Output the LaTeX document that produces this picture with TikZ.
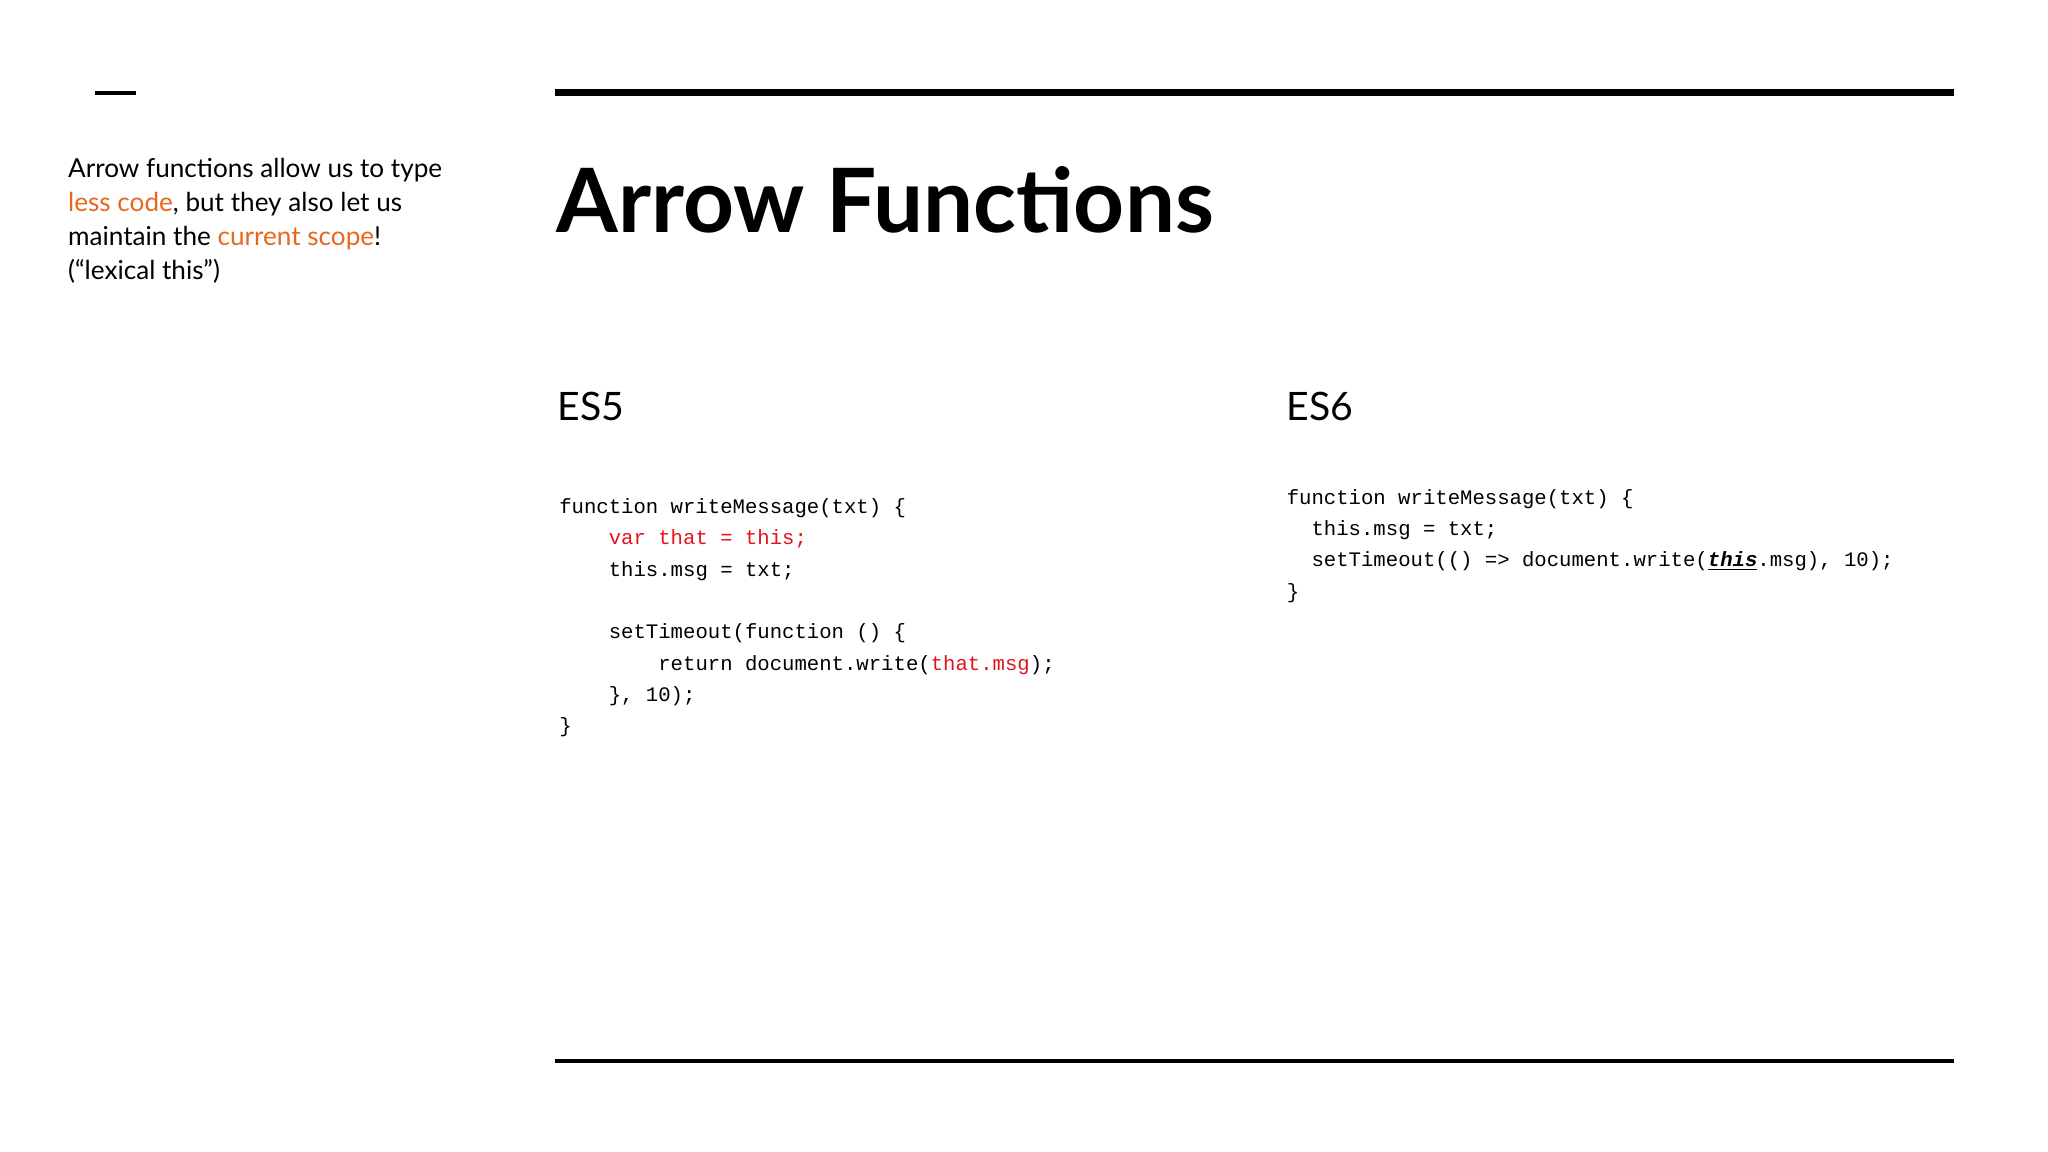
\documentclass[tikz,border=0pt]{standalone}
\usepackage{fontspec}
\setmainfont{Lato}
\setmonofont{Liberation Mono}
\definecolor{orng}{HTML}{E8671E}
\definecolor{cred}{HTML}{E0161B}
\begin{document}
\begin{tikzpicture}[x=1pt,y=-1pt,
  body/.style={anchor=base west,inner sep=0pt,font=\fontsize{20}{26}\selectfont},
  code/.style={anchor=base west,inner sep=0pt,font=\fontsize{15.8}{24}\ttfamily}]
\useasboundingbox (0,0) rectangle (1568,882);
\draw[line width=3pt] (73,71) -- (104,71);
\draw[line width=5pt] (425,71) -- (1496,71);
\draw[line width=3pt] (425,812) -- (1496,812);
\node[body] (l1) at (52,136) {Arrow functions allow us to type};
\node[body] (l2) at (52,162) {\textcolor{orng}{less code}, but they also let us};
\node[body] (l3) at (52,188) {maintain the \textcolor{orng}{current scope}!};
\node[body] (l4) at (52,214) {(“lexical this”)};
\node[anchor=base west,inner sep=0pt,font=\fontsize{68}{70}\selectfont\bfseries] (title) at (426,178) {Arrow Functions};
\node[anchor=base west,inner sep=0pt,font=\fontsize{30}{34}\selectfont] (es5) at (427,322) {ES5};
\node[anchor=base west,inner sep=0pt,font=\fontsize{30}{34}\selectfont] (es6) at (985,322) {ES6};
\node[code] (a1) at (428,393) {function writeMessage(txt) \{};
\node[code] (a2) at (428,417) {\ \ \ \ \textcolor{cred}{var that = this;}};
\node[code] (a3) at (428,441) {\ \ \ \ this.msg = txt;};
\node[code] (a4) at (428,489) {\ \ \ \ setTimeout(function () \{};
\node[code] (a5) at (428,513) {\ \ \ \ \ \ \ \ return document.write(\textcolor{cred}{that.msg});};
\node[code] (a6) at (428,537) {\ \ \ \ \}, 10);};
\node[code] (a7) at (428,561) {\}};
\node[code] (b1) at (985,386) {function writeMessage(txt) \{};
\node[code] (b2) at (985,410) {\ \ this.msg = txt;};
\node[code] (b3) at (985,434) {\ \ setTimeout(() => document.write(\underline{\textbf{\textit{this}}}.msg), 10);};
\node[code] (b4) at (985,458) {\}};
\end{tikzpicture}
\end{document}
